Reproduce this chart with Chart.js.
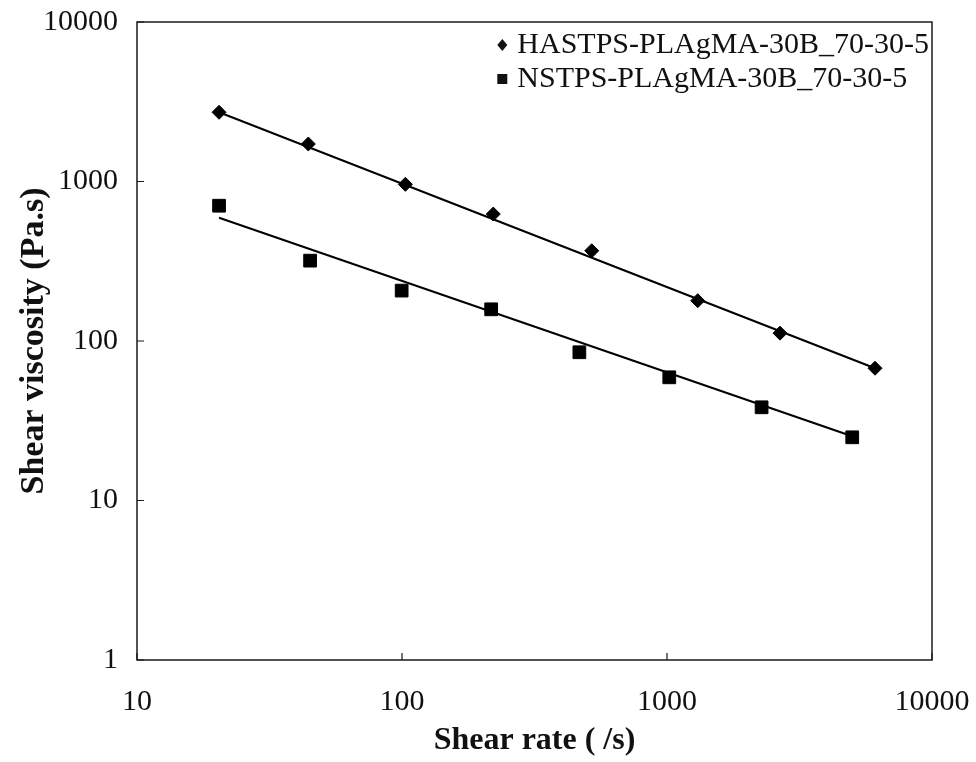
<!DOCTYPE html>
<html>
<head>
<meta charset="utf-8">
<script src="https://cdn.jsdelivr.net/npm/chart.js@4.4.1/dist/chart.umd.min.js"></script>
<style>
html, body { margin: 0; padding: 0; background: #fff; }
</style>
</head>
<body>
<canvas id="viscChart" width="976" height="762"></canvas>
<script>
const seriesNames = ['HASTPS-PLAgMA-30B_70-30-5', 'NSTPS-PLAgMA-30B_70-30-5'];
const hasRate = [20.4, 44.3, 103, 221, 520, 1306, 2670, 6095];
const hasVisc = [2716, 1718, 960, 625, 368, 179, 112, 67.5];
const nsRate = [20.4, 45, 99.7, 217, 467, 1020, 2275, 5000];
const nsVisc = [705, 319, 207, 158, 85, 59.2, 38.4, 24.9];
// power-law trend lines, end points
const hasFitRate = [20.4, 6095];
const hasFitVisc = [2716, 67.5];
const nsFitRate = [20.4, 5000];
const nsFitVisc = [593, 25.3];
const xTicks = [10, 100, 1000, 10000];
const yTicks = [1, 10, 100, 1000, 10000];

const serif = "'Liberation Serif', 'Times New Roman', serif";

function pts(xs, ys) {
    return xs.map((x, i) => ({ x: x, y: ys[i] }));
}

// box round the plot, inward tick marks, legend inside top right
const framePlugin = {
    id: 'frame',
    afterDatasetsDraw(chart) {
        const { ctx, chartArea: a, scales } = chart;
        ctx.save();
        ctx.strokeStyle = '#1a1a1a';
        ctx.lineWidth = 1.5;
        ctx.strokeRect(a.left, a.top, a.right - a.left, a.bottom - a.top);
        ctx.lineWidth = 1.2;
        ctx.beginPath();
        xTicks.forEach(v => {
            const px = scales.x.getPixelForValue(v);
            ctx.moveTo(px, a.bottom);
            ctx.lineTo(px, a.bottom - 7);
        });
        yTicks.forEach(v => {
            const py = scales.y.getPixelForValue(v);
            ctx.moveTo(a.left, py);
            ctx.lineTo(a.left + 7, py);
        });
        ctx.stroke();

        // legend
        ctx.font = '30px ' + serif;
        ctx.fillStyle = '#111';
        ctx.textBaseline = 'middle';
        ctx.textAlign = 'left';
        const rows = [a.top + 23, a.top + 57];
        const textX = a.right - 3 - ctx.measureText(seriesNames[0]).width;
        rows.forEach((y, i) => {
            const mx = textX - 15;
            ctx.beginPath();
            if (i === 0) {
                ctx.moveTo(mx - 5, y);
                ctx.lineTo(mx, y - 6);
                ctx.lineTo(mx + 5, y);
                ctx.lineTo(mx, y + 6);
                ctx.closePath();
            } else {
                ctx.rect(mx - 5, y - 5, 10, 10);
            }
            ctx.fill();
            ctx.fillText(seriesNames[i], textX, y);
        });
        ctx.restore();
    }
};

const ctx = document.getElementById('viscChart').getContext('2d');
const viscChart = new Chart(ctx, {
    type: 'scatter',
    data: {
        datasets: [{
            label: seriesNames[0],
            data: pts(hasRate, hasVisc),
            pointStyle: 'rectRot',
            pointRadius: 7,
            pointBorderWidth: 1,
            backgroundColor: '#000',
            borderColor: '#000',
            showLine: false
        }, {
            label: seriesNames[1],
            data: pts(nsRate, nsVisc),
            pointStyle: 'rect',
            pointRadius: 9,
            pointBorderWidth: 1,
            backgroundColor: '#000',
            borderColor: '#000',
            showLine: false
        }, {
            label: 'fit HASTPS',
            data: pts(hasFitRate, hasFitVisc),
            showLine: true,
            pointRadius: 0,
            borderColor: '#000',
            borderWidth: 2
        }, {
            label: 'fit NSTPS',
            data: pts(nsFitRate, nsFitVisc),
            showLine: true,
            pointRadius: 0,
            borderColor: '#000',
            borderWidth: 2
        }]
    },
    options: {
        responsive: false,
        animation: false,
        layout: { padding: { top: 22, right: 44, bottom: 0, left: 0 } },
        plugins: {
            legend: { display: false },
            tooltip: { enabled: false }
        },
        scales: {
            x: {
                type: 'logarithmic',
                min: 10,
                max: 10000,
                afterBuildTicks: s => { s.ticks = xTicks.map(v => ({ value: v })); },
                afterFit: s => {
                    s.height = 102;
                    s.paddingLeft = 0;
                    s.paddingRight = 0;
                },
                grid: { display: false, drawTicks: false },
                border: { display: false },
                ticks: {
                    callback: v => String(v),
                    color: '#111',
                    font: { family: serif, size: 30 },
                    padding: 24,
                    maxRotation: 0,
                    autoSkip: false
                },
                title: {
                    display: true,
                    text: 'Shear rate ( /s)',
                    color: '#111',
                    font: { family: serif, size: 32, weight: 'bold' },
                    padding: { top: 0, bottom: 2 }
                }
            },
            y: {
                type: 'logarithmic',
                min: 1,
                max: 10000,
                afterBuildTicks: s => { s.ticks = yTicks.map(v => ({ value: v })); },
                afterFit: s => {
                    s.width = 137;
                    s.paddingTop = 0;
                    s.paddingBottom = 0;
                },
                grid: { display: false, drawTicks: false },
                border: { display: false },
                ticks: {
                    callback: v => String(v),
                    color: '#111',
                    font: { family: serif, size: 30 },
                    padding: 19,
                    autoSkip: false
                },
                title: {
                    display: true,
                    text: 'Shear viscosity (Pa.s)',
                    color: '#111',
                    font: { family: serif, size: 34, weight: 'bold' },
                    padding: { top: 14, bottom: 0 }
                }
            }
        }
    },
    plugins: [framePlugin]
});
</script>
</body>
</html>
